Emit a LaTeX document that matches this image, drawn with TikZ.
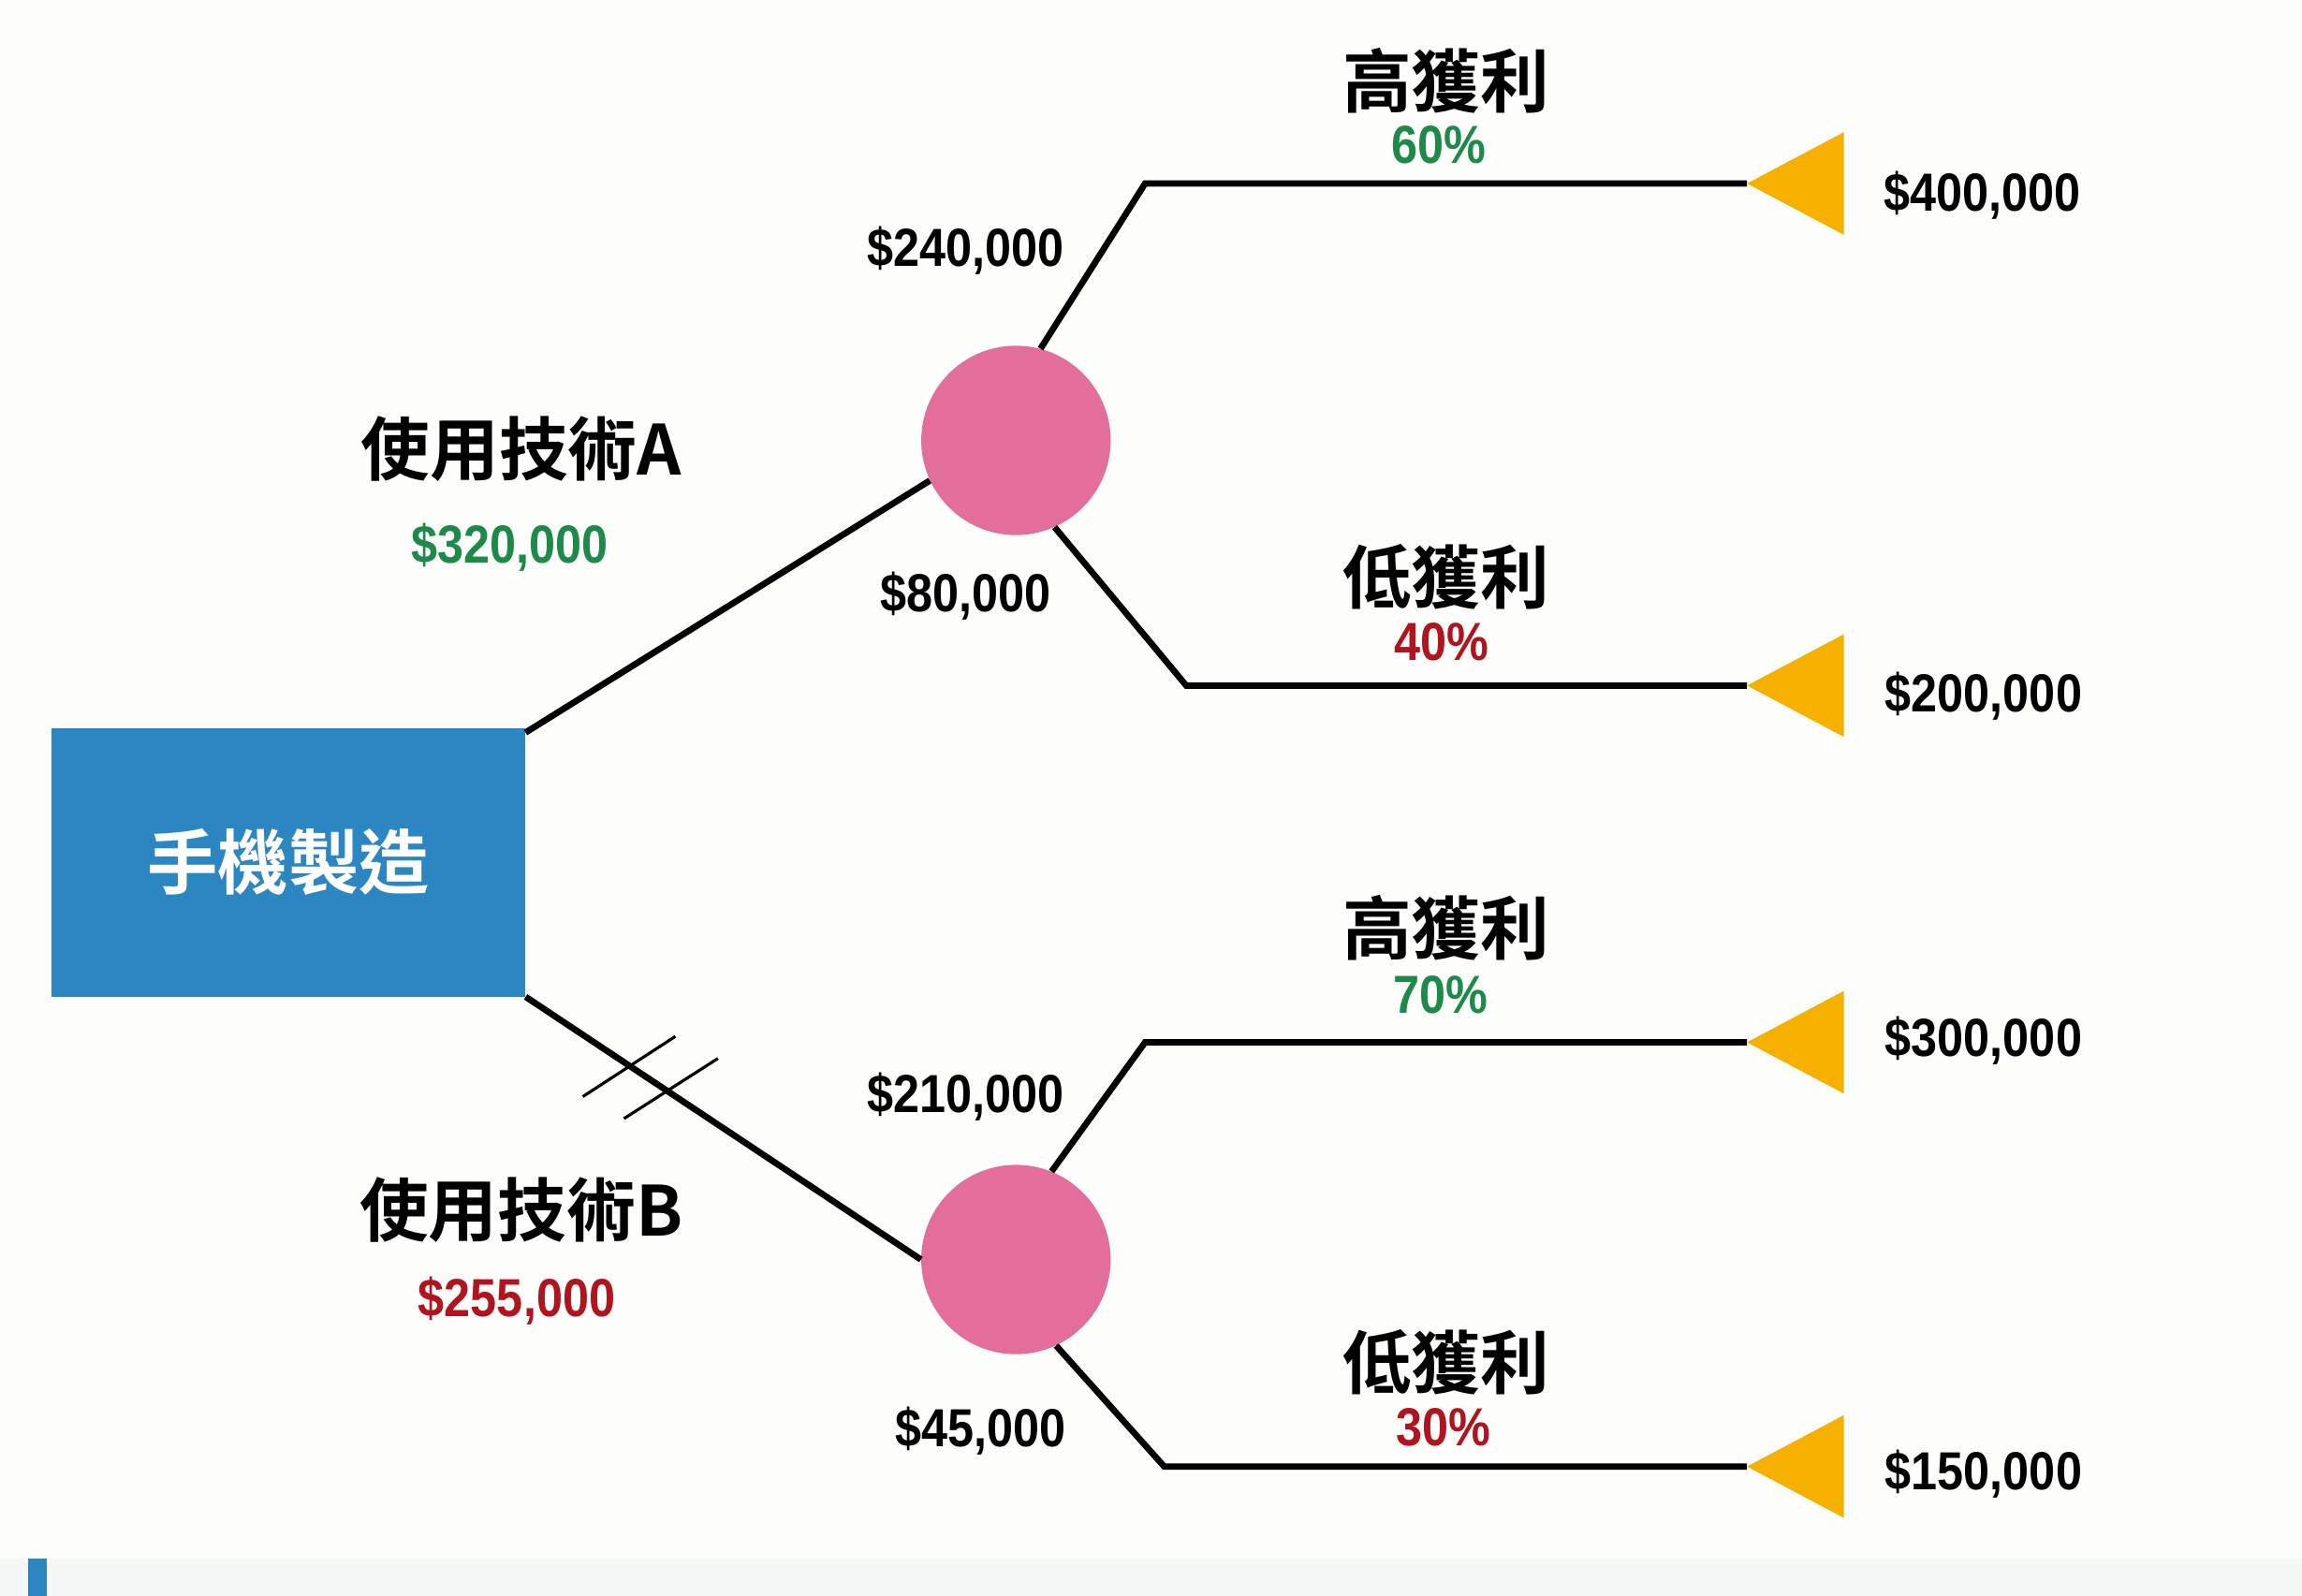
\documentclass[tikz,border=0pt]{standalone}
\usepackage{fontspec}
\newfontfamily\cjk[BoldFont={Noto Sans CJK TC Bold}]{Noto Sans CJK TC}
\newfontfamily\num[FakeStretch=0.88]{Liberation Sans}
\definecolor{bgc}{HTML}{FDFDFB}
\definecolor{bandc}{HTML}{F6F7F7}
\definecolor{boxblue}{HTML}{2C86C2}
\definecolor{pinkc}{HTML}{E46E9B}
\definecolor{orangec}{HTML}{F5B000}
\definecolor{greenc}{HTML}{1E8A4A}
\definecolor{redc}{HTML}{B0141E}
\begin{document}
\begin{tikzpicture}[x=1pt,y=-1pt,
  branch/.style={line width=4.3pt, black},
  hashmark/.style={line width=2pt, black},
  chance/.style={circle, fill=pinkc, minimum size=129pt, inner sep=0pt},
  endtri/.style={fill=orangec},
  cjklab/.style={font=\cjk\bfseries\fontsize{47}{51}\selectfont, inner sep=0pt},
  numlab/.style={font=\num\bfseries\fontsize{36.5}{40}\selectfont, inner sep=0pt}]
\useasboundingbox (0,0) rectangle (1568,1087);
\fill[bgc] (0,0) rectangle (1568,1087);
\fill[bandc] (0,1062) rectangle (1568,1087);
\fill[boxblue] (19,1062) rectangle (32,1087);

% decision node
\node[rectangle, fill=boxblue, minimum width=323pt, minimum height=183pt, inner sep=0pt,
      text=white, font=\cjk\bfseries\fontsize{48}{52}\selectfont] (root) at (196.5,587.5) {手機製造};

% chance nodes
\node[chance] (cA) at (692,300) {};
\node[chance] (cB) at (692,858) {};

% end points
\coordinate (tA1) at (1190,125);
\coordinate (tA2) at (1190,467);
\coordinate (tB1) at (1190,710);
\coordinate (tB2) at (1190,999);
\coordinate (bA) at (358,499);
\coordinate (bB) at (358,679);
\coordinate (kA1) at (780,125);
\coordinate (kA2) at (808,467);
\coordinate (kB1) at (780,710);
\coordinate (kB2) at (793,999);

% connectors
\draw[branch] (bA) -- (cA.205);
\draw[branch] (bB) -- (cB.180);
\draw[branch] (cA.75) -- (kA1) -- (tA1);
\draw[branch] (cA.-66) -- (kA2) -- (tA2);
\draw[branch] (cB.68) -- (kB1) -- (tB1);
\draw[branch] (cB.-65) -- (kB2) -- (tB2);

% hash marks
\draw[hashmark] (397,747) -- (460,706);
\draw[hashmark] (425,762) -- (489,721);

% terminal triangles
\foreach \t in {tA1,tA2,tB1,tB2}
  \fill[endtri] (\t) -- ++(66,-35) -- ++(0,70) -- cycle;

% labels
\node[cjklab] (lA) at (355,306) {使用技術A};
\node[numlab, text=greenc] (vA) at (347,373) {\$320,000};
\node[cjklab] (lB) at (355,824) {使用技術B};
\node[numlab, text=redc] (vB) at (352,886) {\$255,000};

\node[numlab] (eA1) at (658,171) {\$240,000};
\node[numlab] (eA2) at (658,406) {\$80,000};
\node[numlab] (eB1) at (658,747) {\$210,000};
\node[numlab] (eB2) at (668,975) {\$45,000};

\node[cjklab] (hA) at (985,55) {高獲利};
\node[numlab, text=greenc] (pA1) at (980,99) {60\%};
\node[cjklab] (lA2) at (985,393) {低獲利};
\node[numlab, text=redc] (pA2) at (982,437) {40\%};
\node[cjklab] (hB) at (985,632) {高獲利};
\node[numlab, text=greenc] (pB1) at (981,678) {70\%};
\node[cjklab] (lB2) at (985,928) {低獲利};
\node[numlab, text=redc] (pB2) at (983,972) {30\%};

\node[numlab, anchor=west] (oA1) at (1283,133) {\$400,000};
\node[numlab, anchor=west] (oA2) at (1284,474) {\$200,000};
\node[numlab, anchor=west] (oB1) at (1284,709) {\$300,000};
\node[numlab, anchor=west] (oB2) at (1284,1004) {\$150,000};
\end{tikzpicture}
\end{document}
